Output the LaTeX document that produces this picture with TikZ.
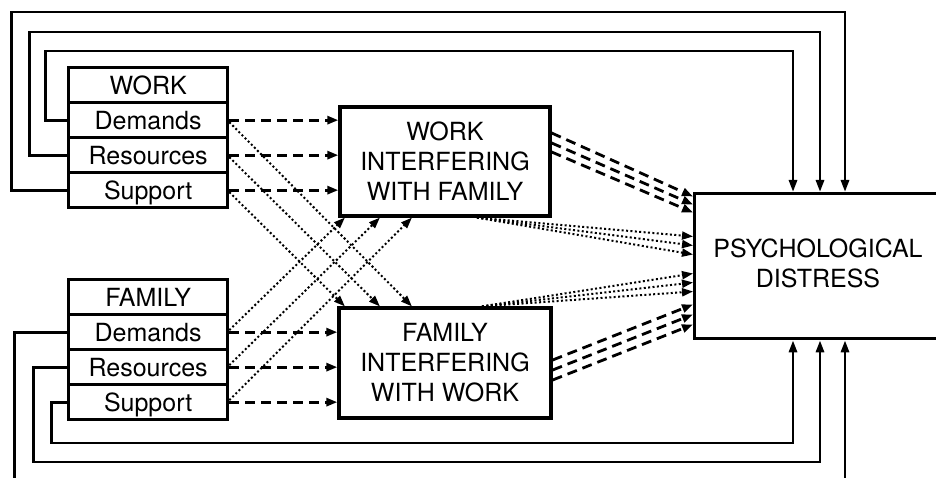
\documentclass[tikz,border=0pt]{standalone}
\usepackage{fontspec}
\setmainfont{TeX Gyre Heros}
\usetikzlibrary{arrows.meta,calc}
\begin{document}
\begin{tikzpicture}[x=1pt,y=-1pt,
  txt/.style={font=\fontsize{25}{30}\selectfont},
  cell/.style={draw, line width=3.3pt, txt, inner sep=0pt, minimum width=159pt, minimum height=35pt, text height=18pt, text depth=0pt, anchor=north west},
  bigbox/.style={draw, fill=white, line width=3.3pt, txt, align=center, inner sep=0pt},
  fb/.style={line width=2.8pt, -{Triangle[length=12pt,width=8pt]}},
  dsh/.style={line width=2.8pt, dash pattern=on 10pt off 6pt, -{Triangle[length=11pt,width=8pt]}},
  dot/.style={line width=2pt, dash pattern=on 2pt off 2.4pt, -{Triangle[length=11pt,width=8pt]}},
]
\useasboundingbox (0,0) rectangle (936,478);
\clip (0,0) rectangle (936,478);

% WORK block
\node[cell] (wt) at (67,66) {WORK};
\node[cell] (wd) at (67,101) {Demands};
\node[cell] (wr) at (67,136) {Resources};
\node[cell] (ws) at (67,171) {Support};
% FAMILY block
\node[cell] (ft) at (67,278) {FAMILY};
\node[cell] (fd) at (67,313) {Demands};
\node[cell] (fr) at (67,348) {Resources};
\node[cell] (fs) at (67,383) {Support};

% interference boxes
\node[bigbox, minimum width=210pt, minimum height=109pt] (wif) at (445,161.5) {WORK\\INTERFERING\\WITH FAMILY};
\node[bigbox, minimum width=212pt, minimum height=110pt] (fiw) at (445,363) {FAMILY\\INTERFERING\\WITH WORK};

% outcome
\node[draw, line width=3.3pt, minimum width=300pt, minimum height=145pt, anchor=north west, inner sep=0pt] (psych) at (693,192) {};
\node[txt, align=center] (psychtxt) at (818,263) {PSYCHOLOGICAL\\DISTRESS};

% corner coordinates of the feedback loops
\coordinate (c1) at (793,51);
\coordinate (c2) at (820,32);
\coordinate (c3) at (845,12);
\coordinate (c4) at (845,500);
\coordinate (c5) at (820,462);
\coordinate (c6) at (793,443);

% direct paths
\draw[fb] (wd.west) -- ++(-21.5,0) |- (c1) -- (c1 |- psych.north);
\draw[fb] (wr.west) -- ++(-37.5,0) |- (c2) -- (c2 |- psych.north);
\draw[fb] (ws.west) -- ++(-55.5,0) |- (c3) -- (c3 |- psych.north);
\draw[fb] (fd.west) -- ++(-52.5,0) |- (c4) -- (c4 |- psych.south);
\draw[fb] (fr.west) -- ++(-33.5,0) |- (c5) -- (c5 |- psych.south);
\draw[fb] (fs.west) -- ++(-15.5,0) |- (c6) -- (c6 |- psych.south);

% dashed: domain to own interference
\draw[dsh] (wd.east) -- (wd.east -| wif.west);
\draw[dsh] (wr.east) -- (wr.east -| wif.west);
\draw[dsh] (ws.east) -- (ws.east -| wif.west);
\draw[dsh] (fd.east) -- (fd.east -| fiw.west);
\draw[dsh] (fr.east) -- (fr.east -| fiw.west);
\draw[dsh] (fs.east) -- (fs.east -| fiw.west);

% dotted: crossing paths
\draw[dot] ($(wd.east)+(0,2)$) -- ($(fiw.north west)+(74.5,0)$);
\draw[dot] ($(wr.east)+(0,2)$) -- ($(fiw.north west)+(42.5,0)$);
\draw[dot] ($(ws.east)+(0,2)$) -- ($(fiw.north west)+(7.5,0)$);
\draw[dot] ($(fd.east)+(0,-2)$) -- ($(wif.south west)+(6.5,0)$);
\draw[dot] ($(fr.east)+(0,-2)$) -- ($(wif.south west)+(41.5,0)$);
\draw[dot] ($(fs.east)+(0,-2)$) -- ($(wif.south west)+(73.5,0)$);

% interference to distress
\draw[dsh] ($(wif.east)+(0,-28.5)$) -- ($(psych.north west)+(0,4.5)$);
\draw[dsh] ($(wif.east)+(0,-18.5)$) -- ($(psych.north west)+(0,12.5)$);
\draw[dsh] ($(wif.east)+(0,-9.5)$) -- ($(psych.north west)+(0,20.5)$);
\draw[dot] ($(wif.south)+(32,0)$) -- ($(psych.north west)+(0,44.5)$);
\draw[dot] ($(wif.south)+(32,0)$) -- ($(psych.north west)+(0,53.5)$);
\draw[dot] ($(wif.south)+(32,0)$) -- ($(psych.north west)+(0,62.5)$);
\draw[dot] ($(fiw.north)+(37,0)$) -- ($(psych.north west)+(0,81.5)$);
\draw[dot] ($(fiw.north)+(37,0)$) -- ($(psych.north west)+(0,90.5)$);
\draw[dot] ($(fiw.north)+(37,0)$) -- ($(psych.north west)+(0,99.5)$);
\draw[dsh] ($(fiw.east)+(0,-3)$) -- ($(psych.north west)+(0,112.5)$);
\draw[dsh] ($(fiw.east)+(0,7)$) -- ($(psych.north west)+(0,122.5)$);
\draw[dsh] ($(fiw.east)+(0,17)$) -- ($(psych.north west)+(0,132.5)$);
\end{tikzpicture}
\end{document}
